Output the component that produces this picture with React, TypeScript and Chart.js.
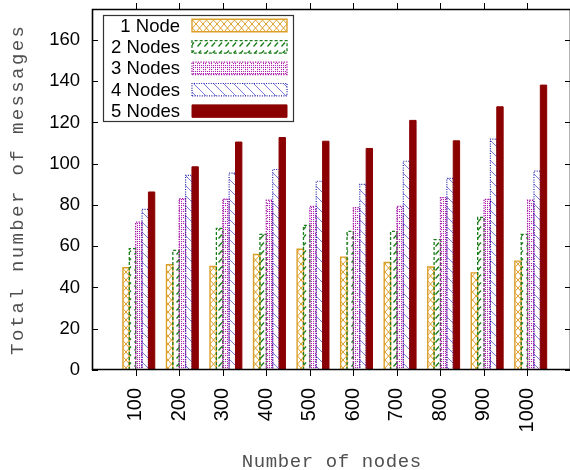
import React, { useEffect, useRef } from 'react';
import { Chart, registerables } from 'chart.js';

Chart.register(...registerables);

// Cluster sizes on the x axis
const nodeCounts = ['100', '200', '300', '400', '500', '600', '700', '800', '900', '1000'];
const seriesNames = ['1 Node', '2 Nodes', '3 Nodes', '4 Nodes', '5 Nodes'];

// Total number of messages per configuration
const oneNode = [49.6, 51.0, 50.2, 56.0, 58.5, 54.7, 52.1, 49.9, 47.1, 52.8];
const twoNodes = [58.8, 58.0, 68.7, 65.7, 70.1, 67.2, 67.2, 63.2, 74.0, 65.7];
const threeNodes = [71.7, 83.1, 82.8, 82.3, 79.3, 78.7, 79.3, 83.6, 82.7, 82.3];
const fourNodes = [77.9, 94.3, 95.4, 97.2, 91.5, 90.0, 101.2, 92.9, 111.9, 96.4];
const fiveNodes = [86.3, 98.5, 110.5, 112.7, 110.9, 107.4, 121.0, 111.1, 127.6, 138.1];

const yTickValues = [0, 20, 40, 60, 80, 100, 120, 140, 160];

const xTitle = 'Number of nodes';
const yTitle = 'Total number of messages';

const seriesValues = [oneNode, twoNodes, threeNodes, fourNodes, fiveNodes];

// Histogram clusters sit slightly right of their tick
const CLUSTER_SHIFT = 0.076;

const SANS = 'Liberation Sans, Arial, sans-serif';
const MONO = 'Liberation Mono, Courier New, monospace';

type Paint = (g: CanvasRenderingContext2D, w: number, h: number) => void;

interface SeriesStyle {
  color: string;
  dash: number[];
  lineWidth: number;
  tile: { w: number; h: number; paint: Paint } | null;
}

const seriesStyles: SeriesStyle[] = [
  {
    color: '#dc9f2a',
    dash: [],
    lineWidth: 1.4,
    tile: {
      w: 7,
      h: 8,
      paint: (g, w, h) => {
        g.strokeStyle = '#dc9f2a';
        g.lineWidth = 1;
        g.beginPath();
        g.moveTo(0, 0);
        g.lineTo(w, h);
        g.moveTo(w, 0);
        g.lineTo(0, h);
        g.stroke();
      },
    },
  },
  {
    color: '#1b7d1b',
    dash: [3, 2],
    lineWidth: 1.3,
    tile: {
      w: 7,
      h: 8,
      paint: (g) => {
        g.strokeStyle = '#1b7d1b';
        g.lineWidth = 1.3;
        g.beginPath();
        g.moveTo(1.5, 6.5);
        g.lineTo(5, 2.5);
        g.stroke();
      },
    },
  },
  {
    color: '#a81ca8',
    dash: [1.3, 1.3],
    lineWidth: 1.3,
    tile: {
      w: 6,
      h: 6,
      paint: (g) => {
        g.fillStyle = '#b01cb0';
        const dots = [
          [1, 1],
          [3, 1],
          [5, 1],
          [1, 3],
          [5, 3],
          [1, 5],
          [3, 5],
          [5, 5],
        ];
        for (const [px, py] of dots) g.fillRect(px, py, 1.1, 1.1);
      },
    },
  },
  {
    color: '#2020a8',
    dash: [1, 1.4],
    lineWidth: 1.2,
    tile: {
      w: 10,
      h: 10,
      paint: (g, w, h) => {
        g.strokeStyle = '#6b6bd6';
        g.lineWidth = 0.9;
        g.beginPath();
        g.moveTo(0, 0);
        g.lineTo(w, h);
        g.moveTo(w - 1, -1);
        g.lineTo(w + 1, 1);
        g.moveTo(-1, h - 1);
        g.lineTo(1, h + 1);
        g.stroke();
      },
    },
  },
  { color: '#8b0000', dash: [], lineWidth: 1, tile: null },
];

function makeFill(ctx: CanvasRenderingContext2D, style: SeriesStyle): string | CanvasPattern {
  if (!style.tile) return style.color;
  const c = document.createElement('canvas');
  c.width = style.tile.w;
  c.height = style.tile.h;
  const g = c.getContext('2d') as CanvasRenderingContext2D;
  style.tile.paint(g, style.tile.w, style.tile.h);
  return ctx.createPattern(c, 'repeat') || style.color;
}

function strokeOutline(
  ctx: CanvasRenderingContext2D,
  style: SeriesStyle,
  left: number,
  top: number,
  right: number,
  bottom: number,
  closed: boolean
) {
  if (!style.lineWidth) return;
  ctx.save();
  ctx.strokeStyle = style.color;
  ctx.lineWidth = style.lineWidth;
  ctx.setLineDash(style.dash);
  ctx.beginPath();
  ctx.moveTo(left, bottom);
  ctx.lineTo(left, top);
  ctx.lineTo(right, top);
  ctx.lineTo(right, bottom);
  if (closed) ctx.closePath();
  ctx.stroke();
  ctx.restore();
}

// Spaced typewriter-style text, centred on the current origin's baseline
function spacedText(ctx: CanvasRenderingContext2D, text: string, spacing: number) {
  (ctx as any).letterSpacing = `${spacing}px`;
  const w = ctx.measureText(text).width - spacing;
  ctx.textAlign = 'left';
  ctx.fillText(text, -w / 2, 0);
  (ctx as any).letterSpacing = '0px';
}

// Dashed / dotted bar outlines, drawn over each bar element
const barOutlines = {
  id: 'barOutlines',
  afterDatasetsDraw(chart: any) {
    const ctx = chart.ctx as CanvasRenderingContext2D;
    chart.data.datasets.forEach((_: any, d: number) => {
      const meta = chart.getDatasetMeta(d);
      meta.data.forEach((el: any) => {
        const { x, y, base, width } = el.getProps(['x', 'y', 'base', 'width'], true);
        strokeOutline(ctx, seriesStyles[d], x - width / 2, y, x + width / 2, base, false);
      });
    });
  },
};

// Boxed frame with mirrored ticks, axis titles, then the key
const frameAndKey = {
  id: 'frameAndKey',
  afterDraw(chart: any) {
    const ctx = chart.ctx as CanvasRenderingContext2D;
    const a = chart.chartArea;
    const xs = chart.scales.x;
    const ys = chart.scales.y;

    ctx.save();
    ctx.strokeStyle = '#000';
    ctx.lineWidth = 1.6;
    ctx.beginPath();
    ctx.rect(a.left + 0.5, a.top + 0.5, a.right - a.left - 1, a.bottom - a.top - 1);
    ctx.stroke();
    ctx.lineWidth = 1;
    ctx.beginPath();
    for (const v of yTickValues) {
      const py = Math.round(ys.getPixelForValue(v)) + 0.5;
      ctx.moveTo(a.left, py);
      ctx.lineTo(a.left + 6, py);
      ctx.moveTo(a.right - 6, py);
      ctx.lineTo(a.right, py);
    }
    nodeCounts.forEach((_, i) => {
      const px = Math.round(xs.getPixelForValue(i)) + 0.5;
      ctx.moveTo(px, a.bottom);
      ctx.lineTo(px, a.bottom + 6);
      ctx.moveTo(px, a.top - 6);
      ctx.lineTo(px, a.top);
    });
    ctx.stroke();

    // axis titles
    ctx.fillStyle = '#505050';
    ctx.font = `19px ${MONO}`;
    ctx.textBaseline = 'alphabetic';
    ctx.save();
    ctx.translate((a.left + 571) / 2, 467);
    spacedText(ctx, xTitle, 0.6);
    ctx.restore();
    ctx.save();
    ctx.translate(23, (a.top + a.bottom) / 2 + 1);
    ctx.rotate(-Math.PI / 2);
    spacedText(ctx, yTitle, 2.4);
    ctx.restore();

    // key box
    const box = { left: 103, top: 15, right: 294, bottom: 122 };
    ctx.fillStyle = '#fff';
    ctx.fillRect(box.left, box.top, box.right - box.left, box.bottom - box.top);
    ctx.strokeStyle = '#333';
    ctx.lineWidth = 1.2;
    ctx.strokeRect(box.left + 0.5, box.top + 0.5, box.right - box.left - 1, box.bottom - box.top - 1);

    ctx.font = `18.5px ${SANS}`;
    ctx.textAlign = 'right';
    ctx.textBaseline = 'middle';
    chart.data.datasets.forEach((ds: any, d: number) => {
      const cy = 25.5 + d * 21.4;
      ctx.fillStyle = '#000';
      ctx.fillText(ds.label, 180, cy + 1);
      const sl = 192;
      const sr = 287;
      const st = cy - 6.2;
      const sb = cy + 6.2;
      ctx.fillStyle = ds.backgroundColor;
      ctx.fillRect(sl, st, sr - sl, sb - st);
      strokeOutline(ctx, seriesStyles[d], sl, st, sr, sb, true);
    });
    ctx.restore();
  },
};

export default function App() {
  const canvasRef = useRef<HTMLCanvasElement | null>(null);

  useEffect(() => {
    const canvas = canvasRef.current;
    if (!canvas) return;
    const ctx = canvas.getContext('2d') as CanvasRenderingContext2D;
    const fills = seriesStyles.map((s) => makeFill(ctx, s));

    const chart = new Chart(canvas, {
      type: 'bar',
      data: {
        datasets: seriesNames.map((name, d) => ({
          label: name,
          data: seriesValues[d].map((v, i) => ({ x: i + CLUSTER_SHIFT, y: v })),
          backgroundColor: fills[d],
          borderWidth: 0,
          categoryPercentage: 0.732,
          barPercentage: 1,
        })),
      },
      options: {
        responsive: false,
        animation: false,
        devicePixelRatio: 1,
        layout: { padding: { top: 9, right: 1, left: 0, bottom: 0 } },
        plugins: {
          legend: { display: false },
          tooltip: { enabled: false },
        },
        scales: {
          x: {
            type: 'linear',
            min: -1,
            max: 10,
            offset: false,
            grid: { display: false, drawTicks: false },
            border: { display: false },
            afterBuildTicks: (s: any) => {
              s.ticks = nodeCounts.map((_, i) => ({ value: i }));
            },
            afterFit: (s: any) => {
              s.height = 100;
              s.paddingLeft = 0;
              s.paddingRight = 0;
            },
            ticks: {
              autoSkip: false,
              minRotation: 90,
              maxRotation: 90,
              padding: 18,
              color: '#000',
              font: { family: SANS, size: 20 },
              callback: (v: any) => nodeCounts[Math.round(Number(v))] ?? '',
            },
          },
          y: {
            min: 0,
            max: 175,
            grid: { display: false, drawTicks: false },
            border: { display: false },
            afterBuildTicks: (s: any) => {
              s.ticks = yTickValues.map((v) => ({ value: v }));
            },
            afterFit: (s: any) => {
              s.width = 92;
              s.paddingTop = 0;
              s.paddingBottom = 0;
            },
            ticks: {
              padding: 12,
              color: '#000',
              font: { family: SANS, size: 18.5 },
            },
          },
        },
      },
      plugins: [barOutlines, frameAndKey],
    } as any);

    return () => chart.destroy();
  }, []);

  return (
    <div
      style={{
        position: 'fixed',
        left: 0,
        top: 0,
        width: 570,
        height: 470,
        overflow: 'hidden',
        background: '#fff',
      }}
    >
      <canvas ref={canvasRef} width={572} height={470} style={{ display: 'block' }} />
    </div>
  );
}
